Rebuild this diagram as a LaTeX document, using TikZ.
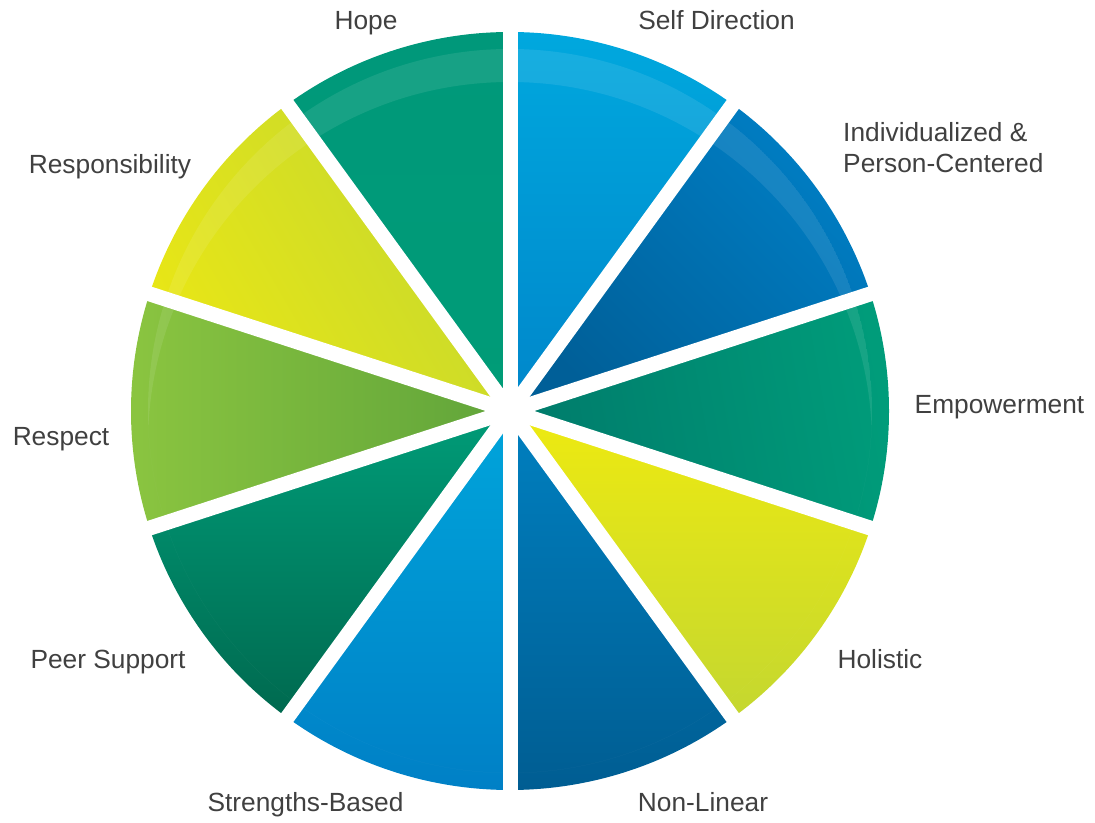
\documentclass[tikz,border=0pt]{standalone}
\usepackage{fontspec}
\setmainfont{Liberation Sans}
\definecolor{labelgray}{HTML}{404040}
\definecolor{hopeA}{HTML}{00987A}\definecolor{hopeB}{HTML}{009C77}
\definecolor{sdA}{HTML}{00A8DE}\definecolor{sdB}{HTML}{0086CA}
\definecolor{indA}{HTML}{007EC4}\definecolor{indB}{HTML}{005F98}
\definecolor{empA}{HTML}{009C7A}\definecolor{empB}{HTML}{007B6B}
\definecolor{holA}{HTML}{EEEA10}\definecolor{holB}{HTML}{C4D730}
\definecolor{nlA}{HTML}{0080C0}\definecolor{nlB}{HTML}{005D92}
\definecolor{sbA}{HTML}{00A5DB}\definecolor{sbB}{HTML}{0080C6}
\definecolor{psA}{HTML}{009C78}\definecolor{psB}{HTML}{00694F}
\definecolor{resA}{HTML}{8BC540}\definecolor{resB}{HTML}{60A43A}
\definecolor{rspA}{HTML}{C4D82F}\definecolor{rspB}{HTML}{E8E616}
\newcommand\seg[3]{\shade[shift={(c)},#3] (0,0) -- (#1:379) arc[start angle=#1, end angle=#2, radius=379] -- cycle;}
\begin{document}
\begin{tikzpicture}[x=1bp,y=1bp]
\tikzset{lbl/.style={text=labelgray, font=\fontsize{26.4}{31}\selectfont, inner sep=0pt, anchor=base},
  gap/.style={white, line width=15bp}}
\useasboundingbox (0,0) rectangle (1095,823);
\coordinate (c) at (510,412);
\coordinate (c2) at (510,379);
% segments
\seg{90}{126}{top color=hopeA, bottom color=hopeB}
\seg{54}{90}{top color=sdA, bottom color=sdB}
\seg{18}{54}{top color=indA, bottom color=indB, shading angle=-45}
\seg{-18}{18}{left color=empB, right color=empA, shading angle=100}
\seg{-54}{-18}{top color=holA, middle color=holA!70!holB, bottom color=holB}
\seg{-90}{-54}{top color=nlA, bottom color=nlB}
\seg{-126}{-90}{top color=sbA, bottom color=sbB}
\seg{-162}{-126}{top color=psA, middle color=psA!85!psB, bottom color=psB}
\seg{162}{198}{left color=resA, right color=resB}
\seg{126}{162}{left color=rspA, right color=rspB, shading angle=-60}
% highlight crescent
\begin{scope}
  \clip (c) circle (362);
  \fill[white, opacity=0.09, even odd rule] (c) circle (362) (c2) circle (362);
\end{scope}
% white gaps
\foreach \a in {90,54,18,-18,-54}{
  \draw[gap, shift={(c)}] (\a:395) -- (\a+180:395);
}
% labels
\node[lbl] (hope) at (366,793) {Hope};
\node[lbl] (selfdir) at (716.5,793) {Self Direction};
\node[lbl, anchor=base west] (ind1) at (843,681) {Individualized \&};
\node[lbl, anchor=base west] (ind2) at (843,650) {Person-Centered};
\node[lbl] (emp) at (999.5,409) {Empowerment};
\node[lbl] (hol) at (880,154) {Holistic};
\node[lbl] (nonlin) at (703,11) {Non-Linear};
\node[lbl] (strength) at (305.5,11) {Strengths-Based};
\node[lbl] (peer) at (108,154) {Peer Support};
\node[lbl] (respect) at (61,377) {Respect};
\node[lbl] (resp) at (110,649) {Responsibility};
\end{tikzpicture}
\end{document}
